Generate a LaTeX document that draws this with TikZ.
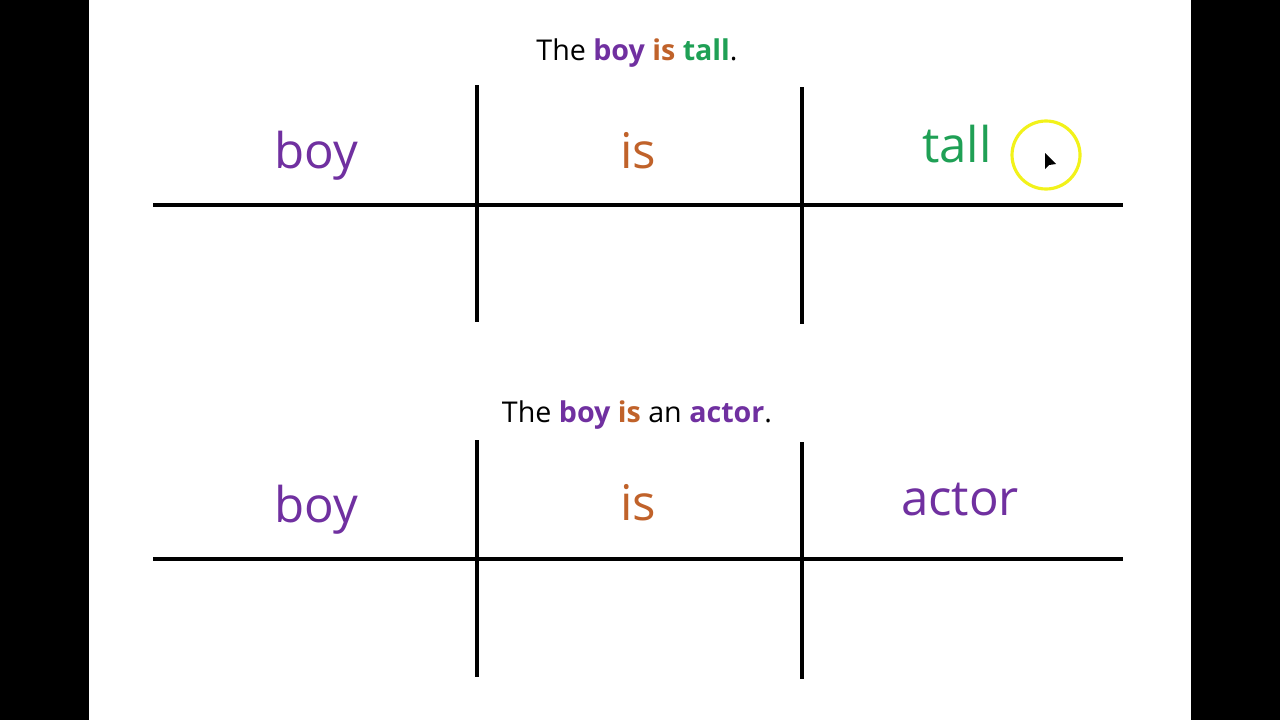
\documentclass[tikz,border=0pt]{standalone}
\usepackage{fontspec}
\setmainfont{Open Sans}
\usetikzlibrary{arrows.meta}

\definecolor{subjpurple}{HTML}{7030A0}
\definecolor{verborange}{HTML}{C0622A}
\definecolor{adjgreen}{HTML}{1FA055}
\definecolor{hiyellow}{HTML}{F2F21A}

\tikzset{
    word/.style={anchor=base, inner sep=0pt, font=\fontsize{28}{33}\selectfont},
    title/.style={anchor=base, inner sep=0pt, font=\fontsize{16.3}{20}\selectfont},
    rule/.style={draw=black, line width=2.5pt},
}

\begin{document}
\begin{tikzpicture}[x=0.02cm, y=-0.02cm]
    \useasboundingbox (0,0) rectangle (1280,720);
    \fill[black] (0,0) rectangle (89,720);
    \fill[black] (1191,0) rectangle (1280,720);

    % first sentence
    \node[title] (t1) at (637,60) {The \textbf{\color{subjpurple}boy} \textbf{\color{verborange}is} \textbf{\color{adjgreen}tall}.};
    \begin{scope}[every node/.style={word}]
        \node[subjpurple] (boy1) at (316,168) {boy};
        \node[verborange] (is1) at (638,168) {is};
        \node[adjgreen] (tall1) at (957,162) {tall};
    \end{scope}

    \coordinate (h1l) at (153,205);
    \coordinate (h1r) at (1123,205);
    \coordinate (v1at) at (477,85);
    \coordinate (v1ab) at (477,322);
    \coordinate (v1bt) at (802,87);
    \coordinate (v1bb) at (802,324);
    \draw[rule] (h1l) -- (h1r);
    \draw[rule] (v1at) -- (v1ab);
    \draw[rule] (v1bt) -- (v1bb);

    % cursor highlight
    \node[draw=hiyellow, line width=1.8pt, circle, minimum size=68*0.02cm, inner sep=0pt] (hl) at (1046,155) {};
    \fill[black] (1045,153) -- (1045,169) -- (1049,165) -- (1056,164) -- cycle;

    % second sentence
    \node[title] (t2) at (637,422) {The \textbf{\color{subjpurple}boy} \textbf{\color{verborange}is} an \textbf{\color{subjpurple}actor}.};
    \begin{scope}[every node/.style={word}]
        \node[subjpurple] (boy2) at (316,522) {boy};
        \node[verborange] (is2) at (638,520) {is};
        \node[subjpurple] (actor2) at (960,515) {actor};
    \end{scope}

    \coordinate (h2l) at (153,559);
    \coordinate (h2r) at (1123,559);
    \coordinate (v2at) at (477,440);
    \coordinate (v2ab) at (477,677);
    \coordinate (v2bt) at (802,442);
    \coordinate (v2bb) at (802,679);
    \draw[rule] (h2l) -- (h2r);
    \draw[rule] (v2at) -- (v2ab);
    \draw[rule] (v2bt) -- (v2bb);
\end{tikzpicture}
\end{document}
